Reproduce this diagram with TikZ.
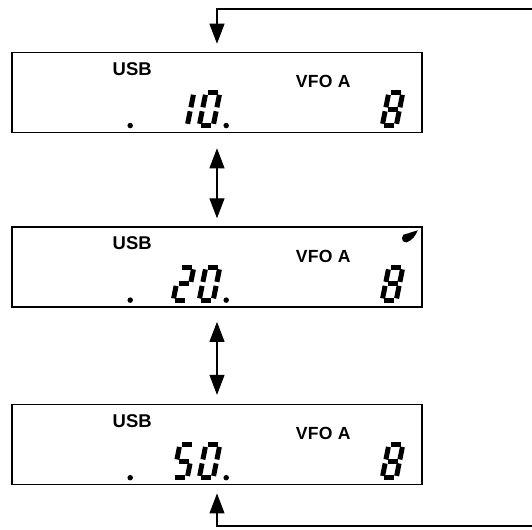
\documentclass[tikz,border=0pt]{standalone}
\usepackage{fontspec}
\setsansfont{Liberation Sans}
\usetikzlibrary{positioning,arrows.meta,calc}

% seven-segment cells: segment paths in an upright 0.38 x 0.76 cell
\newcommand{\lcdsega}{(0.09,0.71) -- (0.29,0.71)}
\newcommand{\lcdsegb}{(0.33,0.67) -- (0.33,0.42)}
\newcommand{\lcdsegc}{(0.33,0.34) -- (0.33,0.09)}
\newcommand{\lcdsegd}{(0.09,0.05) -- (0.29,0.05)}
\newcommand{\lcdsege}{(0.05,0.34) -- (0.05,0.09)}
\newcommand{\lcdsegf}{(0.05,0.67) -- (0.05,0.42)}
\newcommand{\lcdsegg}{(0.09,0.38) -- (0.29,0.38)}
\newcommand{\lcddigit}[2]{%
  \begin{scope}[shift={#1}, xslant=0.2]
    \foreach \s in {#2} {\draw[seg] \csname lcdseg\s\endcsname;}
  \end{scope}}
\newcommand{\lcddot}[1]{\fill #1 circle (0.055);}

\begin{document}
\begin{tikzpicture}[
    >={Triangle[width=0.3cm,length=0.4cm]},
    lcd/.style={draw, line width=0.9pt, minimum width=8.2cm, minimum height=1.6cm, inner sep=0pt},
    mode/.style={font=\sffamily\bfseries\fontsize{10.5}{10.5}\selectfont, inner sep=0pt},
    vfo/.style={font=\sffamily\bfseries\fontsize{10}{10}\selectfont\addfontfeatures{LetterSpace=2}, inner sep=0pt},
    seg/.style={line width=0.1cm},
    flow/.style={->, line width=0.6pt},
    toggle/.style={<->, line width=0.6pt}
]
\useasboundingbox (0,0) rectangle (10.64,10.58);

% three display states, stacked
\node[lcd] (disp10) at (4.34,8.73) {};
\node[lcd, below=1.86cm of disp10] (disp20) {};
\node[lcd, below=1.92cm of disp20] (disp50) {};

% display 10
\node[mode] (usb10) at ($(disp10.north west)+(2.42,-0.34)$) {USB};
\node[vfo] (vfo10) at ($(disp10.north west)+(6.24,-0.6)$) {VFO A};
\lcddot{($(disp10.south west)+(2.38,0.155)$)}
\lcddigit{($(disp10.south west)+(3.18,0.1)$)}{b,c}
\lcddigit{($(disp10.south west)+(3.7,0.1)$)}{a,b,c,d,e,f}
\lcddot{($(disp10.south west)+(4.3,0.155)$)}
\lcddigit{($(disp10.south west)+(7.36,0.1)$)}{a,b,c,d,e,f,g}

% display 20
\node[mode] (usb20) at ($(disp20.north west)+(2.42,-0.34)$) {USB};
\node[vfo] (vfo20) at ($(disp20.north west)+(6.24,-0.6)$) {VFO A};
\lcddot{($(disp20.south west)+(2.38,0.155)$)}
\lcddigit{($(disp20.south west)+(3.18,0.1)$)}{a,b,g,e,d}
\lcddigit{($(disp20.south west)+(3.7,0.1)$)}{a,b,c,d,e,f}
\lcddot{($(disp20.south west)+(4.3,0.155)$)}
\lcddigit{($(disp20.south west)+(7.36,0.1)$)}{a,b,c,d,e,f,g}
\coordinate (mark20) at ($(disp20.north east)+(-0.27,-0.2)$);
\fill ($(mark20)+(0.17,0.12)$) -- ($(mark20)+(-0.12,0.03)$)
  .. controls ($(mark20)+(-0.18,-0.07)$) and ($(mark20)+(-0.12,-0.13)$) .. ($(mark20)+(-0.05,-0.12)$)
  .. controls ($(mark20)+(0.07,-0.08)$) and ($(mark20)+(0.13,0.03)$) .. cycle;

% display 50
\node[mode] (usb50) at ($(disp50.north west)+(2.42,-0.34)$) {USB};
\node[vfo] (vfo50) at ($(disp50.north west)+(6.24,-0.6)$) {VFO A};
\lcddot{($(disp50.south west)+(2.38,0.155)$)}
\lcddigit{($(disp50.south west)+(3.18,0.1)$)}{a,f,g,c,d}
\lcddigit{($(disp50.south west)+(3.7,0.1)$)}{a,b,c,d,e,f}
\lcddot{($(disp50.south west)+(4.3,0.155)$)}
\lcddigit{($(disp50.south west)+(7.36,0.1)$)}{a,b,c,d,e,f,g}

% loop comes in from the right edge, top and bottom
\coordinate (loopin) at (10.64,10.40);
\coordinate (loopout) at (10.64,0.06);
\draw[flow, shorten >=0.16cm] (loopin) -| (disp10.north);
\draw[toggle, shorten <=0.3cm, shorten >=0.16cm] (disp10.south) -- (disp20.north);
\draw[toggle, shorten <=0.28cm, shorten >=0.18cm] (disp20.south) -- (disp50.north);
\draw[flow, shorten >=0.16cm] (loopout) -| (disp50.south);
\end{tikzpicture}
\end{document}
